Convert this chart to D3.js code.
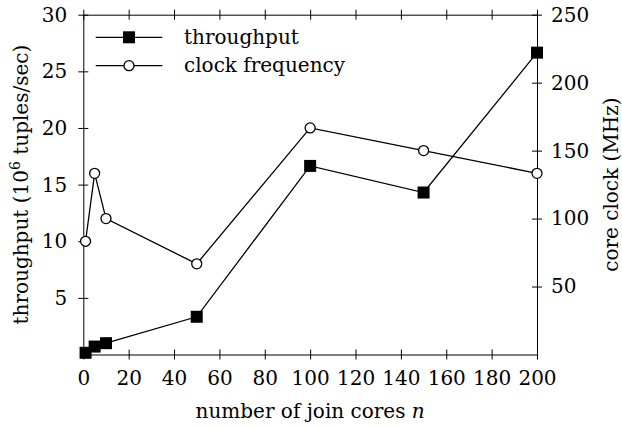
<!DOCTYPE html>
<html lang="en">
<head>
<meta charset="UTF-8">
<title>Throughput and clock frequency vs join cores</title>
<script src="https://d3js.org/d3.v7.min.js"></script>
<style>
  body { margin: 0; background: #fff; }
  svg { font-family: "DejaVu Serif", serif; }
</style>
</head>
<body>
<svg id="chart" width="622" height="428"></svg>
<script>
// data
const cores = [1, 5, 10, 50, 100, 150, 200];
const throughput = [0.15, 0.7, 1.0, 3.33, 16.65, 14.3, 26.65];   // 10^6 tuples/sec
const clockFreq = [83.3, 133.3, 100, 66.7, 166.7, 150, 133.3];    // MHz
const xTicks = [0, 20, 40, 60, 80, 100, 120, 140, 160, 180, 200];
const leftTicks = [5, 10, 15, 20, 25, 30];
const rightTicks = [50, 100, 150, 200, 250];
const seriesNames = ["throughput", "clock frequency"];

const fs = 20;
const svg = d3.select('#chart');
const plotL = 83.3, plotR = 537, plotT = 14.7, plotB = 354.5;

const x = d3.scaleLinear().domain([0, 200]).range([plotL, plotR]);
const yL = d3.scaleLinear().domain([0, 30]).range([plotB, plotT]);
const yR = d3.scaleLinear().domain([0, 250]).range([plotB, plotT]);

// axes (ticks cross the axis line on both sides)
function styleAxis(g, vertical) {
  g.select('.domain').attr('stroke', '#000').attr('stroke-width', 1);
  g.selectAll('.tick line').attr('stroke', '#000').attr('stroke-width', 1);
  if (vertical) g.selectAll('.tick line').attr('x1', -5).attr('x2', 5);
  else g.selectAll('.tick line').attr('y1', -5).attr('y2', 5);
  g.selectAll('text').attr('font-size', fs).attr('fill', '#000')
    .attr('font-family', '"DejaVu Serif", serif');
}

svg.append('g').attr('transform', `translate(0,${plotB})`)
  .call(d3.axisBottom(x).tickValues(xTicks).tickSizeInner(5).tickSizeOuter(0).tickPadding(11))
  .call(g => styleAxis(g, false));

svg.append('g').attr('transform', `translate(0,${plotT})`)
  .call(d3.axisTop(x).tickValues(xTicks).tickSizeInner(5).tickSizeOuter(0).tickFormat(''))
  .call(g => styleAxis(g, false));

svg.append('g').attr('transform', `translate(${plotL},0)`)
  .call(d3.axisLeft(yL).tickValues(leftTicks).tickSizeInner(5).tickSizeOuter(0).tickPadding(11))
  .call(g => styleAxis(g, true));

svg.append('g').attr('transform', `translate(${plotR},0)`)
  .call(d3.axisRight(yR).tickValues(rightTicks).tickSizeInner(5).tickSizeOuter(0).tickPadding(9))
  .call(g => styleAxis(g, true));

// series
const thrPts = cores.map((c, i) => [x(c), yL(throughput[i])]);
const clkPts = cores.map((c, i) => [x(c), yR(clockFreq[i])]);
const line = d3.line();

svg.append('path').attr('d', line(clkPts))
  .attr('fill', 'none').attr('stroke', '#000').attr('stroke-width', 1.3);
svg.append('path').attr('d', line(thrPts))
  .attr('fill', 'none').attr('stroke', '#000').attr('stroke-width', 1.3);

const sq = 12;
function square(sel, px, py) {
  sel.append('rect').attr('x', px - sq / 2).attr('y', py - sq / 2)
    .attr('width', sq).attr('height', sq).attr('fill', '#000');
}
function circle(sel, px, py) {
  sel.append('circle').attr('cx', px).attr('cy', py).attr('r', 5)
    .attr('fill', '#fff').attr('stroke', '#000').attr('stroke-width', 1.3);
}
clkPts.forEach(p => circle(svg, p[0], p[1]));
thrPts.forEach(p => square(svg, p[0], p[1]));

// legend
const legY = [37.3, 65.7];
const leg = svg.append('g');
legY.forEach((ly, i) => {
  leg.append('line').attr('x1', 95.7).attr('x2', 162.3).attr('y1', ly).attr('y2', ly)
    .attr('stroke', '#000').attr('stroke-width', 1.3);
  if (i === 0) square(leg, 129, ly); else circle(leg, 129, ly);
  leg.append('text').attr('x', 184).attr('y', ly + 6.5).attr('font-size', fs)
    .text(seriesNames[i]);
});

// axis titles
svg.append('text').attr('x', (plotL + plotR) / 2).attr('y', 418)
  .attr('text-anchor', 'middle').attr('font-size', fs)
  .text('number of join cores ')
  .append('tspan').attr('font-style', 'italic').text('n');

const yl = svg.append('text').attr('transform', `translate(28,${(plotT + plotB) / 2}) rotate(-90)`)
  .attr('text-anchor', 'middle').attr('font-size', fs);
yl.append('tspan').text('throughput (10');
yl.append('tspan').attr('font-size', 14).attr('dy', -8).text('6');
yl.append('tspan').attr('dy', 8).text(' tuples/sec)');

svg.append('text').attr('transform', `translate(618,${(plotT + plotB) / 2}) rotate(-90)`)
  .attr('text-anchor', 'middle').attr('font-size', fs)
  .text('core clock (MHz)');
</script>
</body>
</html>
